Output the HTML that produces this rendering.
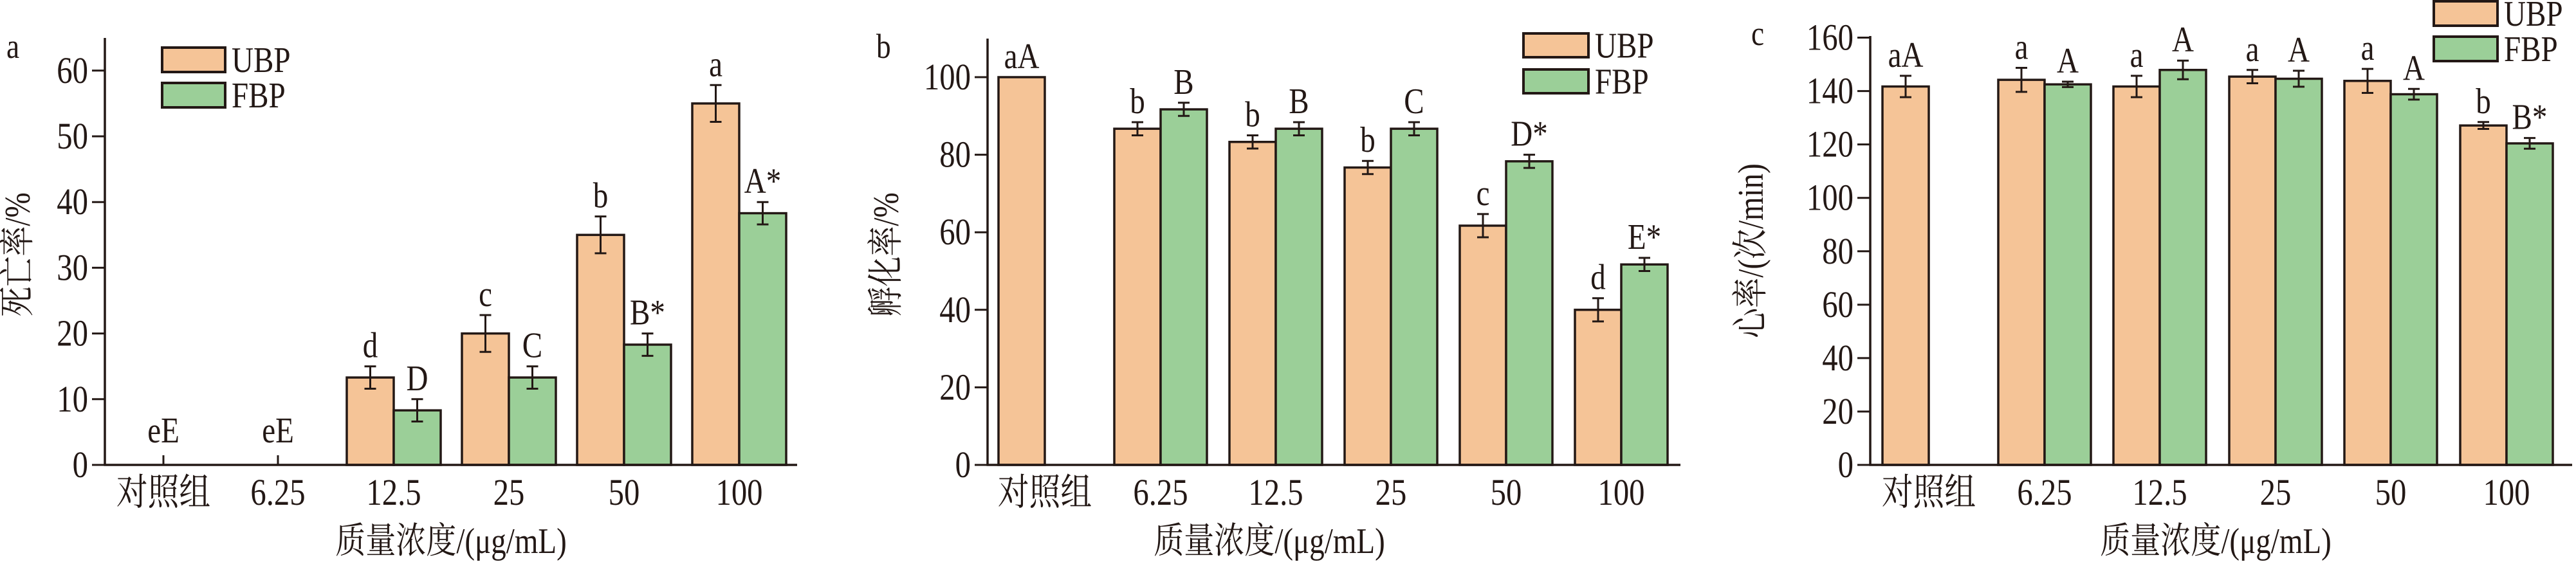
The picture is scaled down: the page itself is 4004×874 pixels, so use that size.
<!DOCTYPE html>
<html><head><meta charset="utf-8"><style>
html,body{margin:0;padding:0;background:#fff;}
svg{display:block;}
text{font-family:"Liberation Serif","Noto Serif CJK SC",serif;fill:#231815;}
</style></head><body>
<svg id="s" width="4004" height="874" viewBox="0 0 4004 874" xmlns="http://www.w3.org/2000/svg"></svg>
<script>
const S=document.getElementById('s');let h='';
const OR='#f5c497',GR='#9bcf98',K='#231815';
function T(x,y,t,sz,anc,rot){h+=`<text x="0" y="0" font-size="${sz}" text-anchor="${anc||'middle'}" transform="translate(${x},${y})${rot?' rotate(-90)':''} scale(0.84,1)">${t}</text>`;}
function L(x1,y1,x2,y2,w){h+=`<line x1="${x1}" y1="${y1}" x2="${x2}" y2="${y2}" stroke="${K}" stroke-width="${w||3}"/>`;}
function panel(p){
 const y=v=>p.base-(v/p.step)*p.px;
 const cats=['对照组','6.25','12.5','25','50','100'];
 for(let i=0;i<6;i++){
  const c=p.cx[i];
  L(c,p.base,c,p.base-15,3);
  [[p.u,OR,c-p.bw,p.ul],[p.f,GR,c,p.fl]].forEach((s,k)=>{
   const v=s[0][i],e=(k?p.fe:p.ue)[i];
   if(v==null)return;
   const bx=s[2],cx=bx+p.bw/2;
   if(v>0)h+=`<rect x="${bx}" y="${y(v)}" width="${p.bw}" height="${p.base-y(v)}" fill="${s[1]}" stroke="${K}" stroke-width="3.5"/>`;
   if(e){L(cx,y(v+e),cx,y(v-e));L(cx-9,y(v+e),cx+9,y(v+e));L(cx-9,y(v-e),cx+9,y(v-e));}
   const lab=s[3][i];
   if(lab)T(cx,y(v+(e||0))-14,lab,56);
  });
  T(c,p.base+62,cats[i],58);
 }
 (p.extra||[]).forEach(a=>T(a[0],a[1],a[2],56));
 L(p.ax,p.top,p.ax,p.base+1.5,3.5);L(p.ax-1.5,p.base,p.end,p.base,3.5);
 for(let v=0;v<=p.max;v+=p.step){L(p.ax-20,y(v),p.ax,y(v),3);T(p.ax-26,y(v)+19,v,58,'end');}
 T(p.xt,860,'质量浓度/(μg/mL)',56);
 T(p.ylx,p.yly,p.yl,56,'middle',true);
 T(p.lx,p.ly,p.letter,54,'start');
 h+=`<rect x="${p.lg[0]}" y="${p.lg[1]}" width="${p.lg[2]}" height="${p.lg[3]}" fill="${OR}" stroke="${K}" stroke-width="4"/>`;
 h+=`<rect x="${p.lg[0]}" y="${p.lg[4]}" width="${p.lg[2]}" height="${p.lg[3]}" fill="${GR}" stroke="${K}" stroke-width="4"/>`;
 T(p.lg[0]+p.lg[2]+10,p.lg[1]+p.lg[3]/2+19,'UBP',56,'start');
 T(p.lg[0]+p.lg[2]+10,p.lg[4]+p.lg[3]/2+19,'FBP',56,'start');
}
panel({base:723,top:59,px:102.2,step:10,max:60,ax:163,end:1239,bw:73,
 cx:[254,432,612,791,970,1149],
 u:[0,0,13.3,20,35,55],f:[0,0,8.3,13.3,18.3,38.3],
 ue:[0,0,1.7,2.8,2.8,2.8],fe:[0,0,1.7,1.7,1.7,1.7],
 ul:['','', 'd','c','b','a'],fl:['','','D','C','B*','A*'],
 extra:[[254,688,'eE'],[432,688,'eE']],
 xt:701,ylx:46,yly:396,yl:'死亡率/%',lx:10,ly:90,letter:'a',
 lg:[252,74,98,38,129]});
panel({base:723,top:60,px:120.6,step:20,max:100,ax:1535,end:2612,bw:72,
 cx:[1624,1804,1983,2162,2341,2520],
 u:[100,86.7,83.3,76.7,61.7,40],f:[null,91.7,86.7,86.7,78.3,51.7],
 ue:[0,1.7,1.7,1.7,3,3],fe:[0,1.7,1.7,1.7,1.7,1.7],
 ul:['aA','b','b','b','c','d'],fl:['','B','B','C','D*','E*'],
 xt:1973,ylx:1396,yly:396,yl:'孵化率/%',lx:1362,ly:90,letter:'b',
 lg:[2368,52,101,37,108]});
panel({base:723,top:56,px:83.06,step:20,max:160,ax:2907,end:3998,bw:72,
 cx:[2998,3178,3357,3537,3716,3896],
 u:[141.7,144.2,141.7,145.4,143.8,127.1],f:[null,142.5,147.9,144.6,138.8,120.4],
 ue:[4,4.5,4,2.5,4.5,1.3],fe:[0,1,3.5,3,2,2],
 ul:['aA','a','a','a','a','b'],fl:['','A','A','A','A','B*'],
 xt:3444,ylx:2740,yly:390,yl:'心率/(次/min)',lx:2722,ly:70,letter:'c',
 lg:[3783,2,99,38,57]});
S.innerHTML=h;
</script>
</body></html>
